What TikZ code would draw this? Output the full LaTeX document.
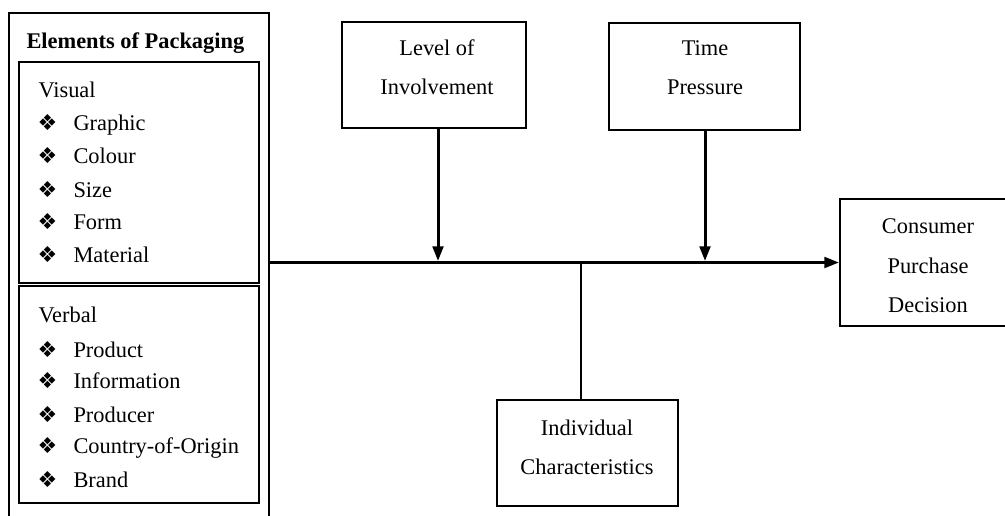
\documentclass[tikz,border=0pt]{standalone}
\usepackage{fontspec}
\setmainfont{Liberation Serif}
\newfontfamily\dingfont{DejaVu Sans}
\usetikzlibrary{arrows.meta}

% bullet row of the packaging list
\newcommand{\pkgitem}[1]{\makebox[27pt][l]{{\dingfont\fontsize{16.5}{16.5}\selectfont ❖}}#1}

\tikzset{every picture/.style={line width=0.75pt}}
\tikzset{
  frame/.style={draw, line width=1.5pt, inner sep=0pt},
  boxtext/.style={inner sep=0.75pt, align=center, font=\fontsize{16.8}{29.5}\selectfont},
  listtext/.style={inner sep=0.75pt, anchor=base west, font=\fontsize{16.8}{20}\selectfont},
  flow/.style={line width=2.25pt, -{Triangle[length=11pt,width=8pt]}},
  stem/.style={line width=2pt},
}

\begin{document}
\begin{tikzpicture}[x=0.75pt,y=0.75pt,yscale=-1,xscale=1]
\path[use as bounding box] (0,0) rectangle (1005,515);

%Shape: Rectangle [outer box, runs off the bottom]
\node[frame, minimum width=195pt, minimum height=380.25pt] (pack) at (139,266.5) {};
%Shape: Rectangle [visual]
\node[frame, minimum width=180pt, minimum height=165.75pt] (visual) at (139,172.5) {};
%Shape: Rectangle [verbal]
\node[frame, minimum width=180pt, minimum height=162.75pt] (verbal) at (139,394.5) {};
%Shape: Rectangle [level]
\node[frame, minimum width=138pt, minimum height=79.5pt] (level) at (434,75) {};
%Shape: Rectangle [time]
\node[frame, minimum width=143.25pt, minimum height=80.25pt] (time) at (704.5,76.5) {};
%Shape: Rectangle [individual]
\node[frame, minimum width=135.75pt, minimum height=79.5pt] (indiv) at (587.5,453) {};
%Shape: Rectangle [consumer, runs off the right]
\node[frame, minimum width=132pt, minimum height=95.25pt] (consumer) at (928,262.5) {};

% joints on the main line
\coordinate (lv) at (438,261);
\coordinate (tp) at (705,261);
\coordinate (jn) at (581,262);

%Straight Lines
\draw[flow] (pack.east |- consumer.west) -- (consumer.west);
\draw[flow] (level.south -| lv) -- (lv);
\draw[flow] (time.south -| tp) -- (tp);
\draw[stem] (jn) -- (jn |- indiv.north);

% Text Node
\node[listtext, font=\fontsize{16.8}{20}\selectfont\bfseries] (title) at (25,48) {Elements of Packaging};
% Text Node
\node[listtext] (vis0) at (37,97) {Visual};
\node[listtext] (vis1) at (36,130) {\pkgitem{Graphic}};
\node[listtext] (vis2) at (36,163) {\pkgitem{Colour}};
\node[listtext] (vis3) at (36,197) {\pkgitem{Size}};
\node[listtext] (vis4) at (36,229) {\pkgitem{Form}};
\node[listtext] (vis5) at (36,262) {\pkgitem{Material}};
% Text Node
\node[listtext] (ver0) at (37,322) {Verbal};
\node[listtext] (ver1) at (36,357) {\pkgitem{Product}};
\node[listtext] (ver2) at (36,388) {\pkgitem{Information}};
\node[listtext] (ver3) at (36,422) {\pkgitem{Producer}};
\node[listtext] (ver4) at (36,453) {\pkgitem{Country-of-Origin}};
\node[listtext] (ver5) at (36,487) {\pkgitem{Brand}};
% Text Node
\node[boxtext] (level-txt) at (437,67.5) {Level of\\Involvement};
% Text Node
\node[boxtext] (time-txt) at (705,67.5) {Time\\Pressure};
% Text Node
\node[boxtext] (indiv-txt) at (587,447.5) {Individual\\Characteristics};
% Text Node
\node[boxtext] (consumer-txt) at (928,266) {Consumer\\Purchase\\Decision};

\end{tikzpicture}
\end{document}
